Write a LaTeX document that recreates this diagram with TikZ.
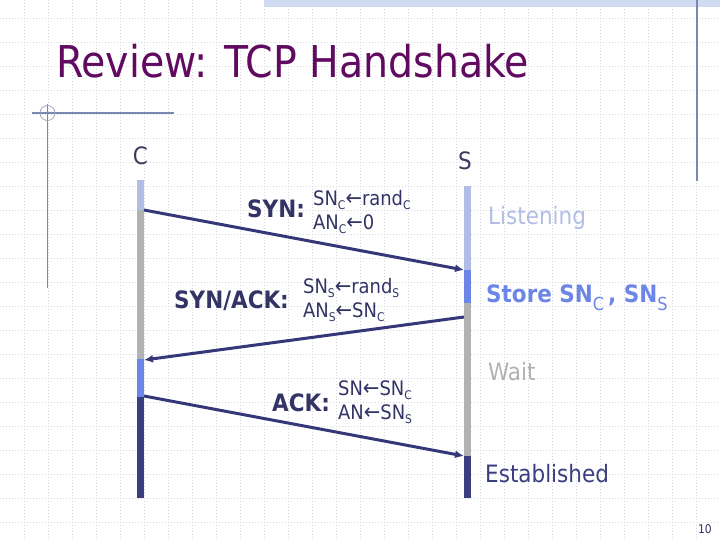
\documentclass[tikz,border=0pt]{standalone}
\usepackage{fontspec}
\setmainfont{DejaVu Sans Condensed}
\usetikzlibrary{arrows.meta}
\definecolor{titlec}{RGB}{96,10,96}
\definecolor{navy}{RGB}{52,56,120}
\definecolor{darkl}{RGB}{58,62,128}
\definecolor{lblue}{RGB}{178,189,230}
\definecolor{mblue}{RGB}{108,134,232}
\definecolor{lgrey}{RGB}{178,178,178}
\definecolor{txtc}{RGB}{51,51,102}
\definecolor{partyc}{RGB}{60,60,92}
\definecolor{decoc}{RGB}{120,136,176}
\definecolor{bandc}{RGB}{208,218,240}
\definecolor{gridc}{RGB}{212,212,218}
\newcommand\sbs[1]{\raisebox{-4bp}{\fontsize{12}{12}\selectfont\mdseries #1}}
\newcommand\sbsb[1]{\raisebox{-8bp}{\fontsize{18}{18}\selectfont\mdseries #1}}
\newcommand\lar{{\fontsize{22}{22}\selectfont\mdseries ←}}
\tikzset{
  gridline/.style={gridc, line width=0.7bp, dash pattern=on 1.2bp off 1.8bp},
  msgarrow/.style={navy, line width=3bp, -{Latex[length=9bp,width=8bp]}},
  lbl/.style={anchor=base west, inner sep=0pt, text=txtc, font=\fontsize{20}{24}\selectfont},
  blbl/.style={anchor=base west, inner sep=0pt, text=txtc, font=\fontsize{24}{28}\selectfont\bfseries},
  state/.style={anchor=base west, inner sep=0pt, font=\fontsize{24}{28}\selectfont},
  party/.style={inner sep=0pt, text=partyc, font=\fontsize{24}{28}\selectfont}
}
\begin{document}
\begin{tikzpicture}[x=1bp,y=-1bp]
\useasboundingbox (0,0) rectangle (720,540);
\fill[white] (0,0) rectangle (720,540);
% grid
\foreach \i in {1,...,29} \draw[gridline] (24*\i,0) -- (24*\i,540);
\foreach \j in {0,...,21} \draw[gridline] (0,18+24*\j) -- (720,18+24*\j);
% decorations
\fill[bandc] (264,0) rectangle (720,7);
\draw[decoc, line width=1.5bp] (697,0) -- (697,181);
\draw[decoc, line width=1.3bp] (32,113) -- (174,113);
\draw[decoc, line width=1.3bp] (47.7,104) -- (47.7,288);
\draw[decoc!80, line width=0.7bp] (47.5,113) circle (7.5);
% title
\node[anchor=base west, inner sep=0pt, text=titlec, font=\fontsize{44}{50}\selectfont] (title) at (56,78) {Review: TCP Handshake};
% parties
\node[party] (C) at (140.5,156) {C};
\node[party] (S) at (465,160.5) {S};
% lifelines
\fill[lblue] (137,180) rectangle (144,210);
\fill[lgrey] (137,210) rectangle (144,359);
\fill[mblue] (137,359) rectangle (144,397);
\fill[darkl] (137,397) rectangle (144,498);
\fill[lblue] (464,186) rectangle (471,270);
\fill[mblue] (464,270) rectangle (471,303);
\fill[lgrey] (464,303) rectangle (471,456);
\fill[darkl] (464,456) rectangle (471,498);
% message endpoints
\coordinate (c1) at (144,210);
\coordinate (s1) at (464,270);
\coordinate (s2) at (464,317);
\coordinate (c2) at (144,360);
\coordinate (c3) at (144,396);
\coordinate (s3) at (464,456);
\draw[msgarrow] (c1) -- (s1);
\draw[msgarrow] (s2) -- (c2);
\draw[msgarrow] (c3) -- (s3);
% message labels
\node[blbl] (syn) at (247,218) {SYN:};
\node[lbl] (syn1) at (313,206) {SN\sbs{C}\lar rand\sbs{C}};
\node[lbl] (syn2) at (313,230) {AN\sbs{C}\lar 0};
\node[blbl] (synack) at (174,308) {SYN/ACK:};
\node[lbl] (sa1) at (303,293) {SN\sbs{S}\lar rand\sbs{S}};
\node[lbl] (sa2) at (303,317) {AN\sbs{S}\lar SN\sbs{C}};
\node[blbl] (ack) at (272,411) {ACK:};
\node[lbl] (ack1) at (338,395) {SN\lar SN\sbs{C}};
\node[lbl] (ack2) at (338,419) {AN\lar SN\sbs{S}};
% states
\node[state, text=lblue] (listen) at (488,225) {Listening};
\node[state, text=mblue, font=\fontsize{24}{28}\selectfont\bfseries] (store) at (486,302) {Store SN\sbsb{C}\,, SN\sbsb{S}};
\node[state, text=lgrey] (wait) at (488,380) {Wait};
\node[state, text=darkl] (est) at (485,482) {Established};
\node[anchor=base east, inner sep=0pt, text=txtc, font=\fontsize{12}{14}\selectfont] (pg) at (712,533) {10};
\end{tikzpicture}
\end{document}
